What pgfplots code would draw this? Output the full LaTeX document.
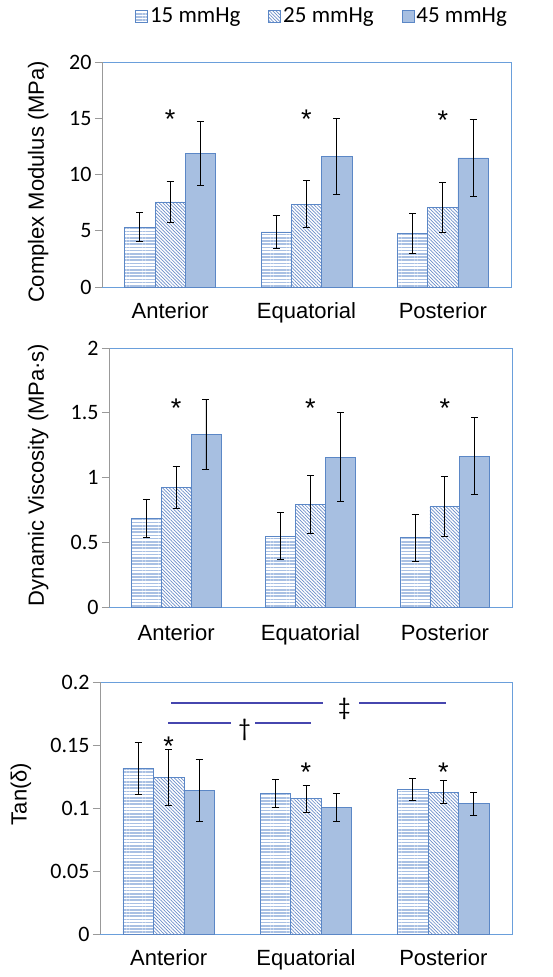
\documentclass[border=0pt]{standalone}
\usepackage{pgfplots}
\pgfplotsset{compat=1.18}
\usepackage{pgfplotstable}
\usetikzlibrary{patterns.meta}
\usepackage{fontspec}
\setmainfont{Carlito}
\newfontfamily\arial{Liberation Sans}

\definecolor{barfill}{HTML}{A7BFE1}
\definecolor{baredge}{HTML}{5B87C6}
\definecolor{stripeA}{HTML}{A9C0E3}
\definecolor{stripeB}{HTML}{6A8CC8}
\definecolor{frameblue}{HTML}{6A9FDB}
\definecolor{sigline}{HTML}{4646AE}

\pgfplotstableread{
x v15 e15 v25 e25 v45 e45
0 5.33 1.32 7.56 1.84 11.88 2.83
1 4.89 1.48 7.35 2.09 11.59 3.35
2 4.77 1.76 7.11 2.22 11.47 3.39
}\tabA
\pgfplotstableread{
x v15 e15 v25 e25 v45 e45
0 0.684 0.150 0.924 0.165 1.332 0.273
1 0.547 0.180 0.792 0.225 1.156 0.343
2 0.534 0.180 0.777 0.233 1.164 0.296
}\tabB
\pgfplotstableread{
x v15 e15 v25 e25 v45 e45
0 0.1314 0.0207 0.1242 0.0219 0.1142 0.0247
1 0.1115 0.0114 0.1073 0.0109 0.1007 0.0112
2 0.1147 0.0090 0.1126 0.0090 0.1033 0.0090
}\tabC
\pgfplotstableread{
x y
0.017 0.1832
1.127 0.1832
}\sigA
\pgfplotstableread{
x y
1.387 0.1832
2.021 0.1832
}\sigB
\pgfplotstableread{
x y
-0.002 0.1674
0.455 0.1674
}\sigC
\pgfplotstableread{
x y
0.63 0.1674
1.035 0.1674
}\sigD

\newcommand{\fs}{\fontsize{22}{26}\selectfont}
\tikzset{ast/.style={font=\arial\fontsize{27}{30}\selectfont, anchor=base, yshift=-15.5pt, inner sep=0pt}}

\pgfplotsset{
  panel/.style={
    scale only axis, xmin=-0.5, xmax=2.5, ymin=0,
    ybar, bar width=0.222,
    legend image code/.code={\draw[#1] (0pt,-6pt) rectangle (12pt,6pt);},
    axis line style={frameblue, line width=0.8pt},
    xtick={0,1,2}, xticklabels={Anterior,Equatorial,Posterior},
    x tick label style={font=\arial\fs},
    x tick style={draw=none},
    ytick pos=left, tick align=outside, major tick length=7pt,
    y tick style={draw=gray!80, line width=0.8pt},
    y tick label style={font=\fs},
    /pgf/number format/assume math mode=true,
    clip=false,
  },
  eb/.style={error bars/.cd, y dir=both, y explicit,
    error bar style={black, line width=0.9pt},
    error mark options={black, mark size=3.5pt, line width=0.9pt, rotate=90}},
  b15/.style={draw=baredge, line width=0.8pt, bar shift=-0.222, pattern={Lines[angle=0,distance=3.2pt,line width=1.5pt]}, pattern color=stripeA, eb},
  b25/.style={draw=baredge, line width=0.8pt, bar shift=0, pattern={Lines[angle=-45,distance=2.4pt,line width=0.7pt]}, pattern color=stripeB, eb},
  b45/.style={draw=baredge, line width=0.8pt, bar shift=0.222, fill=barfill, eb},
  sig/.style={sharp plot, no marks, draw=sigline, line width=1.4pt, forget plot},
}

\begin{document}
\begin{tikzpicture}[x=1pt,y=1pt]
\useasboundingbox (0,0) rectangle (552,977);

% Panel 1
\begin{axis}[panel, at={(102pt,690pt)}, anchor=south west,
  width=409pt, height=225pt, ymax=20,
  ytick={0,5,10,15,20}, yticklabels={0,5,10,15,20},
  x tick label style={yshift=-5.5pt},
  ylabel={Complex Modulus (MPa)},
  every axis y label/.style={at={(axis description cs:-0.156,0.467)}, rotate=90, anchor=center, font=\arial\fs},
  legend style={at={(axis description cs:0.538,1.204)}, anchor=center, draw=none, fill=none, font=\fontsize{23}{27}\selectfont, legend columns=3,
    /tikz/every even column/.append style={column sep=26pt}},
]
\addplot[b15] table[x=x, y=v15, y error=e15] {\tabA};
\addplot[b25] table[x=x, y=v25, y error=e25] {\tabA};
\addplot[b45] table[x=x, y=v45, y error=e45] {\tabA};
\legend{15 mmHg, 25 mmHg, 45 mmHg}
\node[ast] at (axis cs:0,15.5) {*};
\node[ast] at (axis cs:1,15.5) {*};
\node[ast] at (axis cs:2,15.4) {*};
\draw[gray!80, line width=0.8pt] (axis description cs:0,0) -- (axis description cs:0,1);
\end{axis}

% Panel 2
\begin{axis}[panel, at={(109pt,370pt)}, anchor=south west,
  width=403pt, height=259pt, ymax=2,
  ytick={0,0.5,1,1.5,2}, yticklabels={0,0.5,1,1.5,2},
  x tick label style={yshift=-7.5pt},
  ylabel={Dynamic Viscosity (MPa·s)},
  every axis y label/.style={at={(axis description cs:-0.176,0.51)}, rotate=90, anchor=center, font=\arial\fs},
]
\addplot[b15] table[x=x, y=v15, y error=e15] {\tabB};
\addplot[b25] table[x=x, y=v25, y error=e25] {\tabB};
\addplot[b45] table[x=x, y=v45, y error=e45] {\tabB};
\node[ast] at (axis cs:0,1.585) {*};
\node[ast] at (axis cs:1,1.585) {*};
\node[ast] at (axis cs:2,1.585) {*};
\draw[gray!80, line width=0.8pt] (axis description cs:0,0) -- (axis description cs:0,1);
\end{axis}

% Panel 3
\begin{axis}[panel, at={(100pt,43pt)}, anchor=south west,
  width=412pt, height=252pt, ymax=0.2,
  ytick={0,0.05,0.1,0.15,0.2}, yticklabels={0,0.05,0.1,0.15,0.2},
  scaled y ticks=false,
  x tick label style={yshift=-5.5pt},
  ylabel={Tan(δ)},
  every axis y label/.style={at={(axis description cs:-0.192,0.556)}, rotate=90, anchor=center, font=\arial\fs},
]
\addplot[b15] table[x=x, y=v15, y error=e15] {\tabC};
\addplot[b25] table[x=x, y=v25, y error=e25] {\tabC};
\addplot[b45] table[x=x, y=v45, y error=e45] {\tabC};
\addplot[sig] table[x=x, y=y] {\sigA};
\addplot[sig] table[x=x, y=y] {\sigB};
\addplot[sig] table[x=x, y=y] {\sigC};
\addplot[sig] table[x=x, y=y] {\sigD};
\node[font=\fontsize{25}{28}\selectfont, anchor=center] at (axis cs:0.552,0.1616) {†};
\node[font=\fontsize{25}{28}\selectfont, anchor=center] at (axis cs:1.28,0.1788) {‡};
\node[ast] at (axis cs:0,0.154) {*};
\node[ast] at (axis cs:1,0.133) {*};
\node[ast] at (axis cs:2,0.133) {*};
\draw[gray!80, line width=0.8pt] (axis description cs:0,0) -- (axis description cs:0,1);
\end{axis}
\end{tikzpicture}
\end{document}
